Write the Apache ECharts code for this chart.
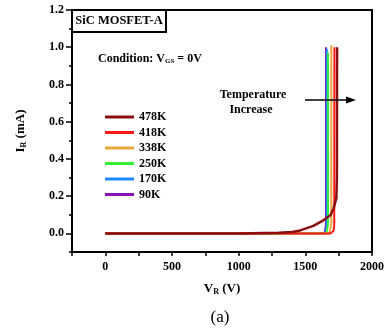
<!DOCTYPE html>
<html>
<head>
<meta charset="utf-8">
<script src="https://cdn.jsdelivr.net/npm/echarts@6/dist/echarts.min.js"></script>
<style>
html,body{margin:0;padding:0;background:#fff;}
#chart{width:389px;height:333px;}
</style>
</head>
<body>
<div id="chart"></div>
<script>
// ---- data ----
const seriesNames = ['478K', '418K', '338K', '250K', '170K', '90K'];
const seriesColors = ['#8B0F0F', '#FF1A1A', '#E8A83A', '#33EE33', '#1E88FF', '#8A10B8'];

const v478 = [0, 500, 1000, 1300, 1400, 1462, 1560, 1635, 1688, 1712, 1733, 1737, 1738];
const i478 = [0, 0, 0, 0.003, 0.008, 0.016, 0.04, 0.07, 0.097, 0.134, 0.19, 0.3, 1.0];

const v418 = [0, 500, 1000, 1500, 1690, 1705, 1713, 1717, 1718];
const i418 = [0, 0, 0, 0, 0, 0.003, 0.015, 0.05, 1.0];

const v338 = [0, 500, 1000, 1500, 1680, 1692, 1695, 1695];
const i338 = [0, 0, 0, 0, 0, 0.006, 0.05, 1.01];

const v250 = [0, 500, 1000, 1500, 1658, 1668, 1670, 1670];
const i250 = [0, 0, 0, 0, 0, 0.006, 0.05, 0.97];

const v170 = [0, 500, 1000, 1500, 1650, 1659, 1661, 1661];
const i170 = [0, 0, 0, 0, 0, 0.006, 0.05, 0.99];

const v90 = [0, 500, 1000, 1500, 1644, 1653, 1655, 1655];
const i90 = [0, 0, 0, 0, 0, 0.006, 0.05, 1.0];

const xTickLabels = [0, 500, 1000, 1500, 2000];
const yTickLabels = [0, 0.2, 0.4, 0.6, 0.8, 1.0, 1.2];

// ---- build ----
const curves = [
  {name: '90K',  v: v90,  i: i90},
  {name: '170K', v: v170, i: i170},
  {name: '250K', v: v250, i: i250},
  {name: '338K', v: v338, i: i338},
  {name: '418K', v: v418, i: i418},
  {name: '478K', v: v478, i: i478}
];
const zip = (a, b) => a.map((x, k) => [x, b[k]]);
const FONT = '"Liberation Serif", "Times New Roman", serif';

const series = curves.map(c => ({
  name: c.name,
  type: 'line',
  xAxisIndex: 0,
  yAxisIndex: 0,
  data: zip(c.v, c.i),
  showSymbol: false,
  symbol: 'none',
  smooth: false,
  color: seriesColors[seriesNames.indexOf(c.name)],
  lineStyle: {width: c.name === '478K' ? 2.5 : 2},
  z: 3
}));

const chart = echarts.init(document.getElementById('chart'), null, {renderer: 'canvas'});
const option = {
  animation: false,
  backgroundColor: '#fff',
  grid: {left: 72, right: 17, top: 10, bottom: 81, show: true, borderColor: '#000', borderWidth: 2, backgroundColor: 'transparent'},
  legend: {
    data: seriesNames,
    orient: 'vertical',
    left: 100,
    top: 106,
    itemWidth: 29,
    itemHeight: 3,
    itemGap: 3.5,
    icon: 'rect',
    textStyle: {fontFamily: FONT, fontWeight: 'bold', fontSize: 12, color: '#000'}
  },
  xAxis: [{
    type: 'value',
    min: -250, max: 2000, interval: 250,
    name: '{v|V}{s|R}{v| (V)}',
    nameLocation: 'middle',
    nameGap: 30,
    nameTextStyle: {rich: {
      v: {fontFamily: FONT, fontWeight: 'bold', fontSize: 13, color: '#000'},
      s: {fontFamily: FONT, fontWeight: 'bold', fontSize: 8, color: '#000', verticalAlign: 'bottom', padding: [6, 0, 0, 0]}
    }},
    axisLine: {show: true, onZero: false, lineStyle: {color: '#000', width: 2}},
    axisTick: {show: true, inside: false, length: 4, lineStyle: {color: '#000', width: 1.5}},
    axisLabel: {customValues: xTickLabels, formatter: v => String(v), fontFamily: FONT, fontWeight: 'bold', fontSize: 12, color: '#000', margin: 9},
    splitLine: {show: false}
  }],
  yAxis: [{
    type: 'value',
    min: -0.1, max: 1.2, interval: 0.1,
    name: '{v|I}{s|R}{v| (mA)}',
    nameLocation: 'middle',
    nameGap: 44,
    nameRotate: 90,
    nameTextStyle: {rich: {
      v: {fontFamily: FONT, fontWeight: 'bold', fontSize: 13, color: '#000'},
      s: {fontFamily: FONT, fontWeight: 'bold', fontSize: 8, color: '#000', verticalAlign: 'bottom', padding: [6, 0, 0, 0]}
    }},
    axisLine: {show: true, onZero: false, lineStyle: {color: '#000', width: 2}},
    axisTick: {show: true, inside: false, length: 3, lineStyle: {color: '#000', width: 1.5}},
    axisLabel: {customValues: yTickLabels, formatter: v => Number(v).toFixed(1), fontFamily: FONT, fontWeight: 'bold', fontSize: 12, color: '#000', margin: 8},
    splitLine: {show: false}
  }, {
    type: 'value',
    min: -0.1, max: 1.2, interval: 0.1,
    position: 'left',
    offset: 0,
    axisLine: {show: false, onZero: false},
    axisTick: {show: true, inside: false, length: 6, customValues: yTickLabels, lineStyle: {color: '#000', width: 1.5}},
    axisLabel: {show: false},
    splitLine: {show: false}
  }],
  series: series,
  graphic: [
    {type: 'rect', shape: {x: 72, y: 10, width: 94, height: 22}, style: {fill: '#fff', stroke: '#000', lineWidth: 2}, z: 10},
    {type: 'text', x: 119, y: 21, style: {text: 'SiC MOSFET-A', font: 'bold 12.5px ' + FONT, fill: '#000', align: 'center', verticalAlign: 'middle'}, z: 11},
    {type: 'text', x: 98, y: 59, style: {
      text: '{a|Condition: V}{s|GS}{a| = 0V}',
      verticalAlign: 'middle',
      rich: {
        a: {font: 'bold 12px ' + FONT, fill: '#000'},
        s: {font: 'bold 7px ' + FONT, fill: '#000', verticalAlign: 'bottom', padding: [5, 0, 0, 0]}
      }
    }, z: 11},
    {type: 'text', x: 253, y: 95, style: {text: 'Temperature', font: 'bold 12px ' + FONT, fill: '#000', align: 'center', verticalAlign: 'middle'}, z: 11},
    {type: 'text', x: 251, y: 110, style: {text: 'Increase', font: 'bold 12px ' + FONT, fill: '#000', align: 'center', verticalAlign: 'middle'}, z: 11},
    {type: 'line', shape: {x1: 305, y1: 100, x2: 348, y2: 100}, style: {stroke: '#000', lineWidth: 1.5}, z: 11},
    {type: 'polygon', shape: {points: [[346, 96.5], [356, 100], [346, 103.5]]}, style: {fill: '#000'}, z: 11},
    {type: 'text', x: 220, y: 318, style: {text: '(a)', font: '17px ' + FONT, fill: '#000', align: 'center', verticalAlign: 'middle'}, z: 11}
  ]
};
chart.setOption(option);
</script>
</body>
</html>
